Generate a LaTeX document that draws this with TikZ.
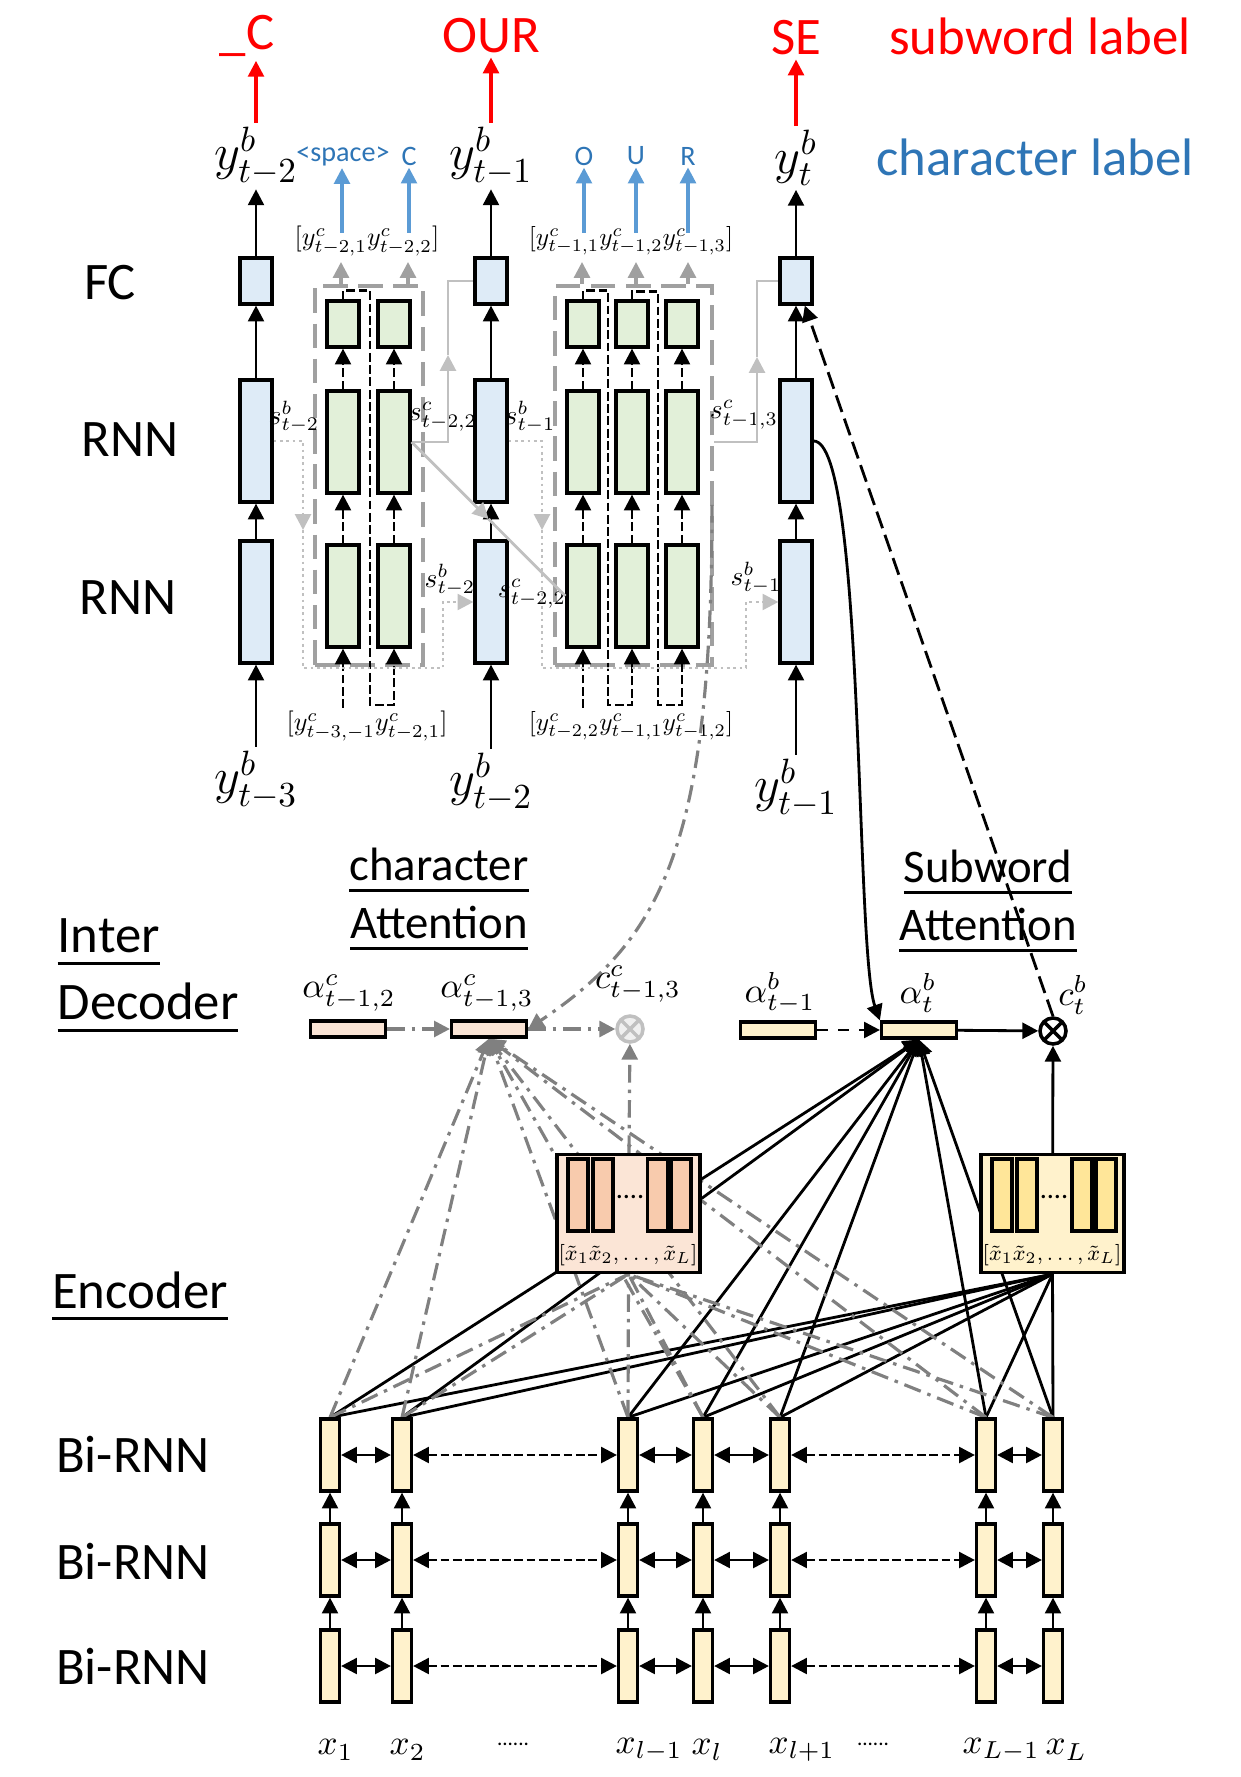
\documentclass[tikz,border=0pt]{standalone}
\usepackage{amsmath}
\usepackage{graphicx}
\usepackage{fontspec}
\setmainfont{Carlito}
\usetikzlibrary{arrows.meta,calc,backgrounds}

\definecolor{rnnblue}{HTML}{DEEBF7}
\definecolor{chargreen}{HTML}{E2F0D9}
\definecolor{attpeach}{HTML}{FBE5D6}
\definecolor{barpeach}{HTML}{F8CBAD}
\definecolor{encyellow}{HTML}{FFF2CC}
\definecolor{baryellow}{HTML}{FFE699}
\definecolor{sublabel}{HTML}{FF0000}
\definecolor{charlabel}{HTML}{2E75B6}
\definecolor{chararrow}{HTML}{5B9BD5}
\definecolor{attgray}{HTML}{808080}
\definecolor{stategray}{HTML}{C0C0C0}

\newcommand{\uword}[1]{\setbox0\hbox{#1}\rlap{\rule[-3.5pt]{\wd0}{0.9pt}}\box0}
\newcommand{\smallmath}[2]{\scalebox{#1}{$#2$}}

\begin{document}
\begin{tikzpicture}[
  x=0.01cm, y=-0.01cm,
  blk/.style={draw=black, line width=0.9pt, inner sep=0pt},
  fcbox/.style={blk, fill=rnnblue, minimum width=0.32cm, minimum height=0.46cm},
  rnnbox/.style={blk, fill=rnnblue, minimum width=0.32cm, minimum height=1.22cm},
  gout/.style={blk, fill=chargreen, minimum width=0.32cm, minimum height=0.46cm},
  grnn/.style={blk, fill=chargreen, minimum width=0.32cm, minimum height=1.02cm},
  grpbox/.style={draw=attgray!75, line width=1.3pt, dash pattern=on 7pt off 3pt,
    minimum width=#1, minimum height=3.79cm, inner sep=0pt},
  encbox/.style={blk, fill=encyellow, minimum width=0.19cm, minimum height=0.72cm},
  attbox/.style={blk, minimum width=0.75cm, minimum height=0.16cm},
  ctxbox/.style={blk, minimum width=1.43cm, minimum height=1.18cm},
  ctxbar/.style={blk, minimum width=0.2cm, minimum height=0.72cm},
  otimes/.style={circle, draw, line width=1pt, minimum size=0.26cm, inner sep=0pt,
    path picture={\draw [line width=1pt]
      (path picture bounding box.north west) -- (path picture bounding box.south east)
      (path picture bounding box.north east) -- (path picture bounding box.south west);}},
  sect/.style={font=\fontsize{15}{17}\selectfont, inner sep=0pt},
  attlbl/.style={font=\fontsize{13.3}{16.5}\selectfont, align=center, inner sep=0pt},
  redlbl/.style={text=sublabel, font=\fontsize{15}{17}\selectfont, inner sep=1pt},
  bluelbl/.style={text=charlabel, font=\fontsize{8}{9}\selectfont, inner sep=0.5pt},
  ylbl/.style={font=\fontsize{14}{16}\selectfont, inner sep=1pt},
  albl/.style={font=\fontsize{10}{12}\selectfont, inner sep=0pt},
  slbl/.style={font=\fontsize{10}{12}\selectfont, inner sep=0pt},
  clbl/.style={font=\fontsize{10}{12}\selectfont, inner sep=0pt},
  xtlbl/.style={font=\fontsize{8}{9}\selectfont, inner sep=0pt},
  xlbl/.style={font=\fontsize{10}{12}\selectfont, inner sep=0pt},
  tip/.style={-{Triangle[length=4.5pt,width=4.5pt]}},
  arw/.style={tip, line width=0.8pt},
  darw/.style={arw, dash pattern=on 2.5pt off 1pt},
  lrarw/.style={{Triangle[length=4.5pt,width=4.5pt]}-{Triangle[length=4.5pt,width=4.5pt]}, line width=0.8pt},
  lrdarw/.style={lrarw, dash pattern=on 2.5pt off 1pt},
  redarw/.style={tip, draw=sublabel, line width=0.9pt},
  bluarw/.style={tip, draw=chararrow, line width=0.9pt},
  grparw/.style={tip, draw=attgray!75, line width=0.9pt, dash pattern=on 2pt off 1pt},
  sbline/.style={draw=stategray, line width=0.8pt, densely dotted},
  scline/.style={draw=stategray, line width=0.8pt},
  gdash/.style={draw=attgray, line width=0.9pt, dash pattern=on 5pt off 2pt on 1pt off 2pt},
  gdarw/.style={gdash, tip},
  fanb/.style={draw=black, line width=0.8pt},
  ]

\useasboundingbox (0,0) rectangle (1240,1777);

% subword / character labels
\node [redlbl] (s1) at (247,36) {\_C};
\node [redlbl] (s2) at (491,36) {OUR};
\node [redlbl] (s3) at (796,38) {SE};
\node [redlbl] (slab) at (1040,36) {subword label};
\node [bluelbl] (o11) at (343,156) {<space>};
\node [bluelbl] (o12) at (409,156) {C};
\node [bluelbl] (o21) at (584,156) {O};
\node [bluelbl] (o22) at (636,156) {U};
\node [bluelbl] (o23) at (688,156) {R};
\node [text=charlabel, font=\fontsize{15}{17}\selectfont] (clab) at (1035,157) {character label};

% subword decoder columns
\node [fcbox] (fc1) at (256,281) {};
\node [rnnbox] (ra1) at (256,441) {};
\node [rnnbox] (rb1) at (256,602) {};
\node [fcbox] (fc2) at (491,281) {};
\node [rnnbox] (ra2) at (491,441) {};
\node [rnnbox] (rb2) at (491,602) {};
\node [fcbox] (fc3) at (796,281) {};
\node [rnnbox] (ra3) at (796,441) {};
\node [rnnbox] (rb3) at (796,602) {};

\node [ylbl] (yo1) at (256,156) {$y^{b}_{t-2}$};
\node [ylbl] (yo2) at (491,156) {$y^{b}_{t-1}$};
\node [ylbl] (yo3) at (796,158) {$y^{b}_{t}$};
\node [ylbl] (yi1) at (256,780) {$y^{b}_{t-3}$};
\node [ylbl] (yi2) at (491,782) {$y^{b}_{t-2}$};
\node [ylbl] (yi3) at (796,788) {$y^{b}_{t-1}$};

\node [sect] (lfc) at (110,283) {FC};
\node [sect] (lrnn1) at (130,440) {RNN};
\node [sect] (lrnn2) at (128,598) {RNN};

% character decoder groups
\node [grpbox=1.08cm] (g1) at (369,475.5) {};
\node [grpbox=1.57cm] (g2) at (633.5,475.5) {};
\node [gout] (g11t) at (343,324) {};
\node [grnn] (g11m) at (343,442) {};
\node [grnn] (g11b) at (343,596) {};
\node [gout] (g12t) at (394,324) {};
\node [grnn] (g12m) at (394,442) {};
\node [grnn] (g12b) at (394,596) {};
\node [gout] (g21t) at (583,324) {};
\node [grnn] (g21m) at (583,442) {};
\node [grnn] (g21b) at (583,596) {};
\node [gout] (g22t) at (632,324) {};
\node [grnn] (g22m) at (632,442) {};
\node [grnn] (g22b) at (632,596) {};
\node [gout] (g23t) at (682,324) {};
\node [grnn] (g23m) at (682,442) {};
\node [grnn] (g23b) at (682,596) {};

\node [clbl] (yc1) at (367,241) {\smallmath{0.74}{[y^{c}_{t-2,1}y^{c}_{t-2,2}]}};
\node [clbl] (yc2) at (631,241) {\smallmath{0.72}{[y^{c}_{t-1,1}y^{c}_{t-1,2}y^{c}_{t-1,3}]}};
\node [clbl] (yc3) at (367,726) {\smallmath{0.74}{[y^{c}_{t-3,-1}y^{c}_{t-2,1}]}};
\node [clbl] (yc4) at (631,726) {\smallmath{0.72}{[y^{c}_{t-2,2}y^{c}_{t-1,1}y^{c}_{t-1,2}]}};

\node [slbl] (sb1l) at (294,417) {\smallmath{0.78}{s^{b}_{t-2}}};
\node [slbl] (sc1l) at (443,417) {\smallmath{0.78}{s^{c}_{t-2,2}}};
\node [slbl] (sb2l) at (530,417) {\smallmath{0.78}{s^{b}_{t-1}}};
\node [slbl] (sc2l) at (744,415) {\smallmath{0.78}{s^{c}_{t-1,3}}};
\node [slbl] (sb3l) at (450,580) {\smallmath{0.78}{s^{b}_{t-2}}};
\node [slbl] (sc3l) at (532,594) {\smallmath{0.78}{s^{c}_{t-2,2}}};
\node [slbl] (sb4l) at (756,578) {\smallmath{0.78}{s^{b}_{t-1}}};

\coordinate (u11) at (342,233);
\coordinate (u12) at (409,233);
\coordinate (u21) at (584,233);
\coordinate (u22) at (636,233);
\coordinate (u23) at (688,233);
\coordinate (v11) at (341,262);
\coordinate (v12) at (408,262);
\coordinate (v21) at (582,262);
\coordinate (v22) at (636,262);
\coordinate (v23) at (688,262);
\coordinate (in1) at (343,708);
\coordinate (in2) at (583,708);
\coordinate (sb1) at (303,530);
\coordinate (sb2) at (542,530);
\coordinate (sc1) at (448,355);
\coordinate (sc2) at (757,357);
\coordinate (gcurve) at (712,505);

\draw [redarw] (yo1.north) -- (yo1.north |- s1.south);
\draw [redarw] (yo2.north) -- (yo2.north |- s2.south);
\draw [redarw] (yo3.north) -- (yo3.north |- s3.south);
\draw [arw] (fc1) -- (yo1);
\draw [arw] (fc2) -- (yo2);
\draw [arw] (fc3) -- (yo3);
\draw [arw] (ra1) -- (fc1);
\draw [arw] (ra2) -- (fc2);
\draw [arw] (ra3) -- (fc3);
\draw [arw] (rb1) -- (ra1);
\draw [arw] (rb2) -- (ra2);
\draw [arw] (rb3) -- (ra3);
\draw [arw] (yi1) -- (rb1);
\draw [arw] (yi2) -- (rb2);
\draw [arw] (yi3) -- (rb3);

\draw [bluarw] (u11) -- (u11 |- o11.south);
\draw [bluarw] (u12) -- (u12 |- o12.south);
\draw [bluarw] (u21) -- (u21 |- o21.south);
\draw [bluarw] (u22) -- (u22 |- o22.south);
\draw [bluarw] (u23) -- (u23 |- o23.south);
\draw [grparw] (v11 |- g1.north) -- (v11);
\draw [grparw] (v12 |- g1.north) -- (v12);
\draw [grparw] (v21 |- g2.north) -- (v21);
\draw [grparw] (v22 |- g2.north) -- (v22);
\draw [grparw] (v23 |- g2.north) -- (v23);

\draw [darw] (g11b) -- (g11m);
\draw [darw] (g11m) -- (g11t);
\draw [darw] (g12b) -- (g12m);
\draw [darw] (g12m) -- (g12t);
\draw [darw] (g21b) -- (g21m);
\draw [darw] (g21m) -- (g21t);
\draw [darw] (g22b) -- (g22m);
\draw [darw] (g22m) -- (g22t);
\draw [darw] (g23b) -- (g23m);
\draw [darw] (g23m) -- (g23t);
\draw [darw] (in1) -- (g11b.south);
\draw [darw] (in2) -- (g21b.south);
\draw [darw] (g11t.north) -- ++(0,-9) -| (370,705) -| (g12b.south);
\draw [darw] (g21t.north) -- ++(0,-9) -| (608,705) -| (g22b.south);
\draw [darw] (g22t.north) -- ++(0,-8) -| (658,705) -| (g23b.south);

% states passed between the decoders
\draw [sbline, tip] (ra1.east) -| (sb1);
\draw [sbline, tip] (sb1) -- (303,668) -- (443,668) |- (rb2.west);
\draw [sbline, tip] (ra2.east) -| (sb2);
\draw [sbline, tip] (sb2) -- (542,668) -- (746,668) |- (rb3.west);
\draw [scline, tip] (g12m.east) -| (sc1);
\draw [scline] (sc1) |- (fc2.west);
\draw [scline, tip] (g23m.east -| g2.east) -| (sc2);
\draw [scline] (sc2) |- (fc3.west);
\draw [scline, tip] (g12m.east) -- ($(g12m.east)!0.5!(g21b.west)$);
\draw [scline] ($(g12m.east)!0.5!(g21b.west)$) -- (g21b.west);

% inter decoder
\node [sect, anchor=north west, align=left] (idec) at (57,918) {\uword{Inter}\\[2pt]\uword{Decoder}};
\node [attlbl] (catt) at (439,899) {\uword{character}\\\uword{Attention}};
\node [attlbl] (satt) at (988,901) {\uword{Subword}\\\uword{Attention}};

\node [attbox, fill=attpeach] (ac2) at (348,1029) {};
\node [attbox, fill=attpeach] (ac3) at (489,1029) {};
\node [otimes, draw=stategray, fill=gray!12] (cc) at (630,1029) {};
\node [attbox, fill=encyellow] (ab1) at (778,1030) {};
\node [attbox, fill=encyellow] (ab) at (919,1030) {};
\node [otimes] (cb) at (1053,1031) {};

\node [albl] (lac2) at (349,993) {$\alpha^{c}_{t-1,2}$};
\node [albl] (lac3) at (487,993) {$\alpha^{c}_{t-1,3}$};
\node [albl] (lcc) at (638,984) {$c^{c}_{t-1,3}$};
\node [albl] (lab1) at (780,993) {$\alpha^{b}_{t-1}$};
\node [albl] (lab) at (918,993) {$\alpha^{b}_{t}$};
\node [albl] (lcb) at (1073,995) {$c^{b}_{t}$};

\node [ctxbox, fill=attpeach] (ctxc) at (628.5,1213.5) {};
\node [ctxbar, fill=barpeach] (pc1) at (578,1195) {};
\node [ctxbar, fill=barpeach] (pc2) at (603,1195) {};
\node [ctxbar, fill=barpeach] (pc3) at (657.5,1195) {};
\node [ctxbar, fill=barpeach] (pc4) at (681,1195) {};
\node [xtlbl] (dc) at (630,1197) {....};
\node [xtlbl] (xc) at (628,1255) {\smallmath{0.76}{[\tilde{x}_{1}\tilde{x}_{2},\ldots,\tilde{x}_{L}]}};

\node [ctxbox, fill=encyellow] (ctxb) at (1052.5,1213.5) {};
\node [ctxbar, fill=baryellow] (pb1) at (1002,1195) {};
\node [ctxbar, fill=baryellow] (pb2) at (1027,1195) {};
\node [ctxbar, fill=baryellow] (pb3) at (1082,1195) {};
\node [ctxbar, fill=baryellow] (pb4) at (1106,1195) {};
\node [xtlbl] (db) at (1054,1197) {....};
\node [xtlbl] (xb) at (1052,1255) {\smallmath{0.76}{[\tilde{x}_{1}\tilde{x}_{2},\ldots,\tilde{x}_{L}]}};

\draw [gdarw] (ac2) -- (ac3);
\draw [gdarw] (ac3) -- (cc);
\draw [gdarw] (ctxc) -- (cc);
\draw [gdarw] (gcurve) .. controls (712,850) and (660,940) .. (ac3.east);
\draw [arw, dashed] (ab1) -- (ab);
\draw [arw] (ab) -- (cb);
\draw [arw] (ctxb) -- (cb);
\draw [arw] (ra3.east) .. controls (865,441) and (855,950) .. (ab.north west);
\draw [arw, dash pattern=on 5pt off 2pt] (cb.north) -- ($(fc3.south)!0.5!(fc3.south east)$);

% encoder
\node [sect] (lenc) at (140,1296) {\uword{Encoder}};
\node [sect] (lbi1) at (133,1454) {Bi-RNN};
\node [sect] (lbi2) at (133,1561) {Bi-RNN};
\node [sect] (lbi3) at (133,1666) {Bi-RNN};

\node [encbox] (t1) at (330,1455) {};
\node [encbox] (t2) at (402,1455) {};
\node [encbox] (t3) at (628,1455) {};
\node [encbox] (t4) at (703,1455) {};
\node [encbox] (t5) at (780,1455) {};
\node [encbox] (t6) at (986,1455) {};
\node [encbox] (t7) at (1053,1455) {};
\node [encbox] (m1) at (330,1560) {};
\node [encbox] (m2) at (402,1560) {};
\node [encbox] (m3) at (628,1560) {};
\node [encbox] (m4) at (703,1560) {};
\node [encbox] (m5) at (780,1560) {};
\node [encbox] (m6) at (986,1560) {};
\node [encbox] (m7) at (1053,1560) {};
\node [encbox] (b1) at (330,1666) {};
\node [encbox] (b2) at (402,1666) {};
\node [encbox] (b3) at (628,1666) {};
\node [encbox] (b4) at (703,1666) {};
\node [encbox] (b5) at (780,1666) {};
\node [encbox] (b6) at (986,1666) {};
\node [encbox] (b7) at (1053,1666) {};

\node [xlbl, anchor=west] (x1) at (317,1750) {$x_{1}$};
\node [xlbl, anchor=west] (x2) at (389,1750) {$x_{2}$};
\node [xlbl, anchor=west] (x3) at (615,1750) {$x_{l-1}$};
\node [xlbl, anchor=west] (x4) at (691,1750) {$x_{l}$};
\node [xlbl, anchor=west] (x5) at (768,1750) {$x_{l+1}$};
\node [xlbl, anchor=west] (x6) at (962,1750) {$x_{L-1}$};
\node [xlbl, anchor=west] (x7) at (1045,1750) {$x_{L}$};
\node [font=\fontsize{6}{7}\selectfont] (dx1) at (513,1744) {......};
\node [font=\fontsize{6}{7}\selectfont] (dx2) at (873,1744) {......};

\draw [arw] (b1) -- (m1);
\draw [arw] (b2) -- (m2);
\draw [arw] (b3) -- (m3);
\draw [arw] (b4) -- (m4);
\draw [arw] (b5) -- (m5);
\draw [arw] (b6) -- (m6);
\draw [arw] (b7) -- (m7);
\draw [arw] (m1) -- (t1);
\draw [arw] (m2) -- (t2);
\draw [arw] (m3) -- (t3);
\draw [arw] (m4) -- (t4);
\draw [arw] (m5) -- (t5);
\draw [arw] (m6) -- (t6);
\draw [arw] (m7) -- (t7);

\draw [lrarw] (t1) -- (t2);
\draw [lrdarw] (t2) -- (t3);
\draw [lrarw] (t3) -- (t4);
\draw [lrarw] (t4) -- (t5);
\draw [lrdarw] (t5) -- (t6);
\draw [lrarw] (t6) -- (t7);
\draw [lrarw] (m1) -- (m2);
\draw [lrdarw] (m2) -- (m3);
\draw [lrarw] (m3) -- (m4);
\draw [lrarw] (m4) -- (m5);
\draw [lrdarw] (m5) -- (m6);
\draw [lrarw] (m6) -- (m7);
\draw [lrarw] (b1) -- (b2);
\draw [lrdarw] (b2) -- (b3);
\draw [lrarw] (b3) -- (b4);
\draw [lrarw] (b4) -- (b5);
\draw [lrdarw] (b5) -- (b6);
\draw [lrarw] (b6) -- (b7);

% attention lines
\begin{scope}[on background layer]
\path (t1.north) edge [fanb, tip] (ab.south) (t2.north) edge [fanb, tip] (ab.south)
      (t3.north) edge [fanb, tip] (ab.south) (t4.north) edge [fanb, tip] (ab.south)
      (t5.north) edge [fanb, tip] (ab.south) (t6.north) edge [fanb, tip] (ab.south)
      (t7.north) edge [fanb, tip] (ab.south);
\path (t1.north) edge [fanb] (ctxb.south) (t2.north) edge [fanb] (ctxb.south)
      (t3.north) edge [fanb] (ctxb.south) (t4.north) edge [fanb] (ctxb.south)
      (t5.north) edge [fanb] (ctxb.south) (t6.north) edge [fanb] (ctxb.south)
      (t7.north) edge [fanb] (ctxb.south);
\path (t1.north) edge [gdarw] (ac3.south) (t2.north) edge [gdarw] (ac3.south)
      (t3.north) edge [gdarw] (ac3.south) (t4.north) edge [gdarw] (ac3.south)
      (t5.north) edge [gdarw] (ac3.south) (t6.north) edge [gdarw] (ac3.south)
      (t7.north) edge [gdarw] (ac3.south);
\path (t1.north) edge [gdash] (ctxc.south) (t2.north) edge [gdash] (ctxc.south)
      (t3.north) edge [gdash] (ctxc.south) (t4.north) edge [gdash] (ctxc.south)
      (t5.north) edge [gdash] (ctxc.south) (t6.north) edge [gdash] (ctxc.south)
      (t7.north) edge [gdash] (ctxc.south);
\end{scope}

\end{tikzpicture}
\end{document}
